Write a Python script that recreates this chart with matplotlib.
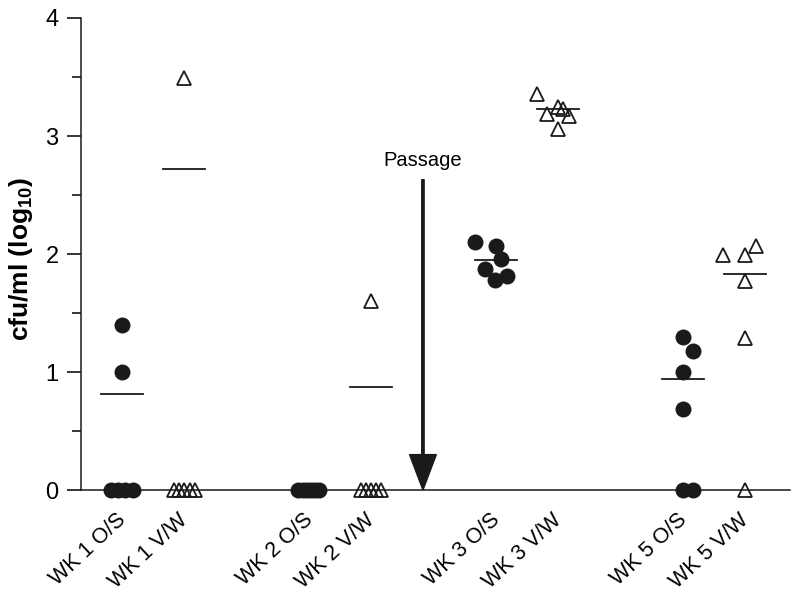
import matplotlib
matplotlib.use("Agg")
import matplotlib.pyplot as plt
import matplotlib.transforms as mtransforms
import numpy as np

plt.rcParams['font.family'] = ['Liberation Sans', 'DejaVu Sans']
plt.rcParams['mathtext.fontset'] = 'custom'
plt.rcParams['mathtext.bf'] = 'Liberation Sans:bold'
plt.rcParams['mathtext.rm'] = 'Liberation Sans:bold'

# ---- data (log10 cfu/ml) ----
categories = ["WK 1 O/S", "WK 1 V/W", "WK 2 O/S", "WK 2 V/W",
              "WK 3 O/S", "WK 3 V/W", "WK 5 O/S", "WK 5 V/W"]
cat_pos = [0, 1, 3, 4, 6, 7, 9, 10]
markers = ["o", "^", "o", "^", "o", "^", "o", "^"]

wk1_os = [1.40, 1.00, 0.0, 0.0, 0.0, 0.0]
wk1_vw = [3.49, 0.0, 0.0, 0.0, 0.0, 0.0]
wk2_os = [0.0, 0.0, 0.0, 0.0, 0.0, 0.0]
wk2_vw = [1.60, 0.0, 0.0, 0.0, 0.0, 0.0]
wk3_os = [2.10, 2.07, 1.955, 1.873, 1.78, 1.81]
wk3_vw = [3.36, 3.25, 3.19, 3.23, 3.17, 3.06]
wk5_os = [1.30, 1.18, 1.00, 0.69, 0.0, 0.0]
wk5_vw = [1.99, 1.99, 2.07, 1.77, 1.29, 0.0]
series = [wk1_os, wk1_vw, wk2_os, wk2_vw, wk3_os, wk3_vw, wk5_os, wk5_vw]

# group means
means = [0.81, 2.72, 0.0, 0.873, 1.95, 3.225, 0.938, 1.83]

# horizontal scatter offsets of the points within each group
jitter = [
    [0.0, 0.0, -0.17, -0.057, 0.057, 0.17],
    [0.0, -0.17, -0.087, 0.0, 0.087, 0.17],
    [-0.17, -0.10, -0.034, 0.034, 0.10, 0.17],
    [0.0, -0.16, -0.08, 0.0, 0.08, 0.16],
    [-0.34, 0.0, 0.08, -0.18, -0.02, 0.18],
    [-0.34, 0.0, -0.18, 0.08, 0.18, 0.0],
    [0.0, 0.17, 0.0, 0.0, 0.0, 0.16],
    [-0.35, 0.0, 0.18, 0.0, 0.0, 0.0],
]

passage_x = 4.83
passage_top = 2.63

INK = "#1a1a1a"

fig = plt.figure(figsize=(8, 6), dpi=100)
ax = fig.add_axes([0.101, 0.1833, 0.8865, 0.7867])

for pos, vals, off, mk, m in zip(cat_pos, series, jitter, markers, means):
    xs = np.array(off) + pos
    if mk == "o":
        ax.plot(xs, vals, linestyle="none", marker="o", markersize=11.5,
                color=INK, markeredgewidth=0, clip_on=False, zorder=4)
    else:
        ax.plot(xs, vals, linestyle="none", marker="^", markersize=10.5,
                markerfacecolor="none", markeredgecolor=INK,
                markeredgewidth=1.3, clip_on=False, zorder=4)
    if m > 0:
        ax.plot([pos - 0.34, pos + 0.34], [m, m], color=INK, lw=1.3, zorder=3)

# passage arrow
ax.arrow(passage_x, passage_top, 0, -passage_top, width=0.038, head_width=0.43,
         head_length=0.30, length_includes_head=True, color=INK,
         clip_on=False, zorder=5)
ax.text(passage_x, passage_top + 0.08, "Passage", ha="center", va="bottom", fontsize=14.5)

ax.set_xlim(-0.66, 10.72)
ax.set_ylim(0, 4)
ax.set_xticks(cat_pos)
ax.set_xticklabels(categories, rotation=43, ha="right", fontsize=15.5)
ax.tick_params(axis="x", length=0, pad=14)
offset = mtransforms.ScaledTranslation(8 / 100, 0, fig.dpi_scale_trans)
for lab in ax.get_xticklabels():
    lab.set_transform(lab.get_transform() + offset)

ax.set_yticks([0, 1, 2, 3, 4])
ax.set_yticks([0.5, 1.5, 2.5, 3.5], minor=True)
ax.tick_params(axis="y", which="major", length=10, width=1.1, labelsize=17, pad=6)
ax.tick_params(axis="y", which="minor", length=6.5, width=1.1)
ax.set_ylabel(r"cfu/ml (log$_{\mathbf{10}}$)", fontsize=19, fontweight="bold")
ax.yaxis.set_label_coords(-0.064, 0.49)

for s in ["top", "right"]:
    ax.spines[s].set_visible(False)
for s in ["left", "bottom"]:
    ax.spines[s].set_linewidth(1.1)
    ax.spines[s].set_color(INK)

fig.savefig("out.png", dpi=100)
